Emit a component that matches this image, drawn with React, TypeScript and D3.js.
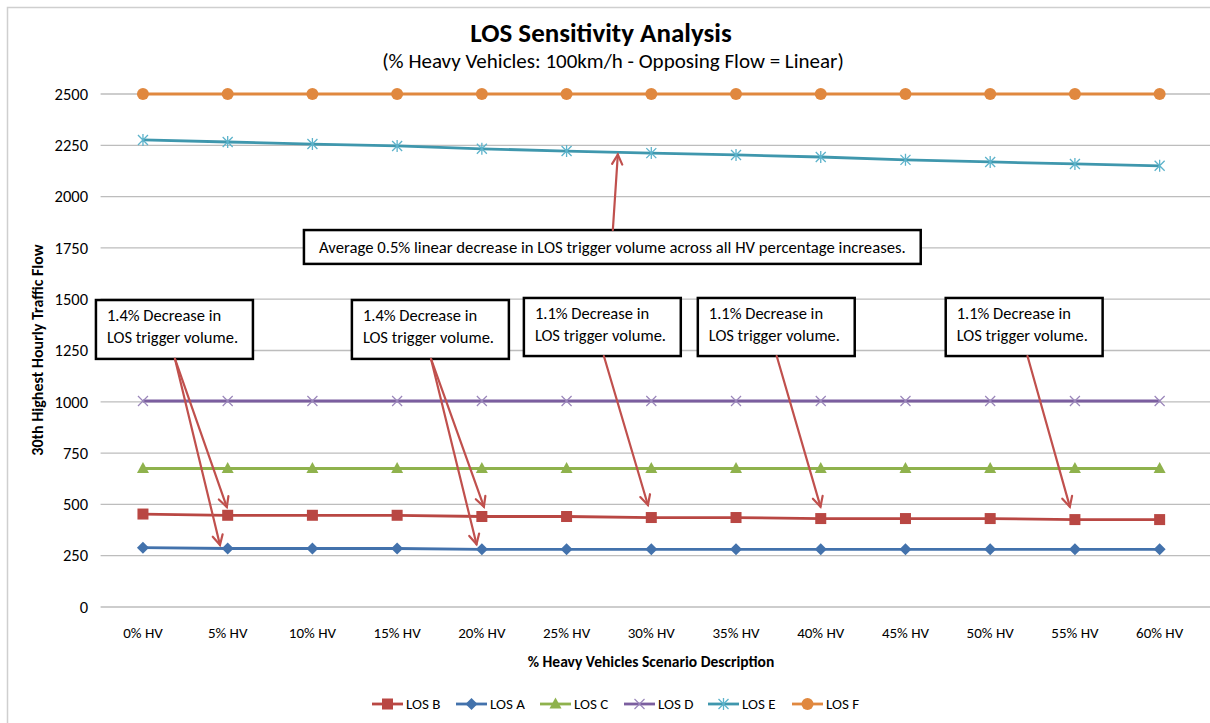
import React from 'react';
import * as d3 from 'd3';

// ---------- data ----------
const categories = ['0% HV', '5% HV', '10% HV', '15% HV', '20% HV', '25% HV', '30% HV', '35% HV', '40% HV', '45% HV', '50% HV', '55% HV', '60% HV'];
const losB = [453, 447, 447, 447, 441, 441, 436, 436, 431, 431, 431, 426, 426];
const losA = [289, 285, 285, 285, 281, 281, 281, 281, 281, 281, 281, 281, 281];
const losC = [675, 675, 675, 675, 675, 675, 675, 675, 675, 675, 675, 675, 675];
const losD = [1004, 1004, 1004, 1004, 1004, 1004, 1004, 1004, 1004, 1004, 1004, 1004, 1004];
const losE = [2276, 2266, 2256, 2247, 2233, 2222, 2212, 2203, 2193, 2179, 2169, 2159, 2150];
const losF = [2500, 2500, 2500, 2500, 2500, 2500, 2500, 2500, 2500, 2500, 2500, 2500, 2500];
const yTicks = [0, 250, 500, 750, 1000, 1250, 1500, 1750, 2000, 2250, 2500];
const seriesNames = ['LOS B', 'LOS A', 'LOS C', 'LOS D', 'LOS E', 'LOS F'];

const title = 'LOS Sensitivity Analysis';
const subtitle = '(% Heavy Vehicles: 100km/h - Opposing Flow = Linear)';
const xTitle = '% Heavy Vehicles Scenario Description';
const yTitle = '30th Highest Hourly Traffic Flow';

const noteTexts = [
  ['1.4% Decrease in', 'LOS trigger volume.'],
  ['1.4% Decrease in', 'LOS trigger volume.'],
  ['1.1% Decrease in', 'LOS trigger volume.'],
  ['1.1% Decrease in', 'LOS trigger volume.'],
  ['1.1% Decrease in', 'LOS trigger volume.'],
];
const bigNote = 'Average 0.5% linear decrease in LOS trigger volume across all HV percentage increases.';

// ---------- layout / style ----------
const W = 1210;
const H = 723;
const FONT = "Carlito, Calibri, Lato, 'Open Sans', sans-serif";
const plot = { left: 100.6, right: 1202, top: 94, bottom: 607 };

const styles = [
  { color: '#B94743', marker: 'square' },
  { color: '#4372AC', marker: 'diamond' },
  { color: '#8FB24D', marker: 'triangle' },
  { color: '#7B5E9F', marker: 'x' },
  { color: '#3F97AD', marker: 'star' },
  { color: '#E0883F', marker: 'circle' },
];

// annotation boxes in (category index, value) space
const noteBoxes = [
  { i0: -0.555, i1: 1.298, v0: 1496, v1: 1209 },
  { i0: 2.466, i1: 4.319, v0: 1496, v1: 1209 },
  { i0: 4.496, i1: 6.348, v0: 1506, v1: 1223 },
  { i0: 6.549, i1: 8.401, v0: 1506, v1: 1223 },
  { i0: 9.475, i1: 11.327, v0: 1506, v1: 1223 },
];
const noteArrows = [
  { from: [0.378, 1209], to: [0.99, 487] },
  { from: [0.378, 1209], to: [0.909, 302] },
  { from: [3.40, 1209], to: [4.024, 489] },
  { from: [3.40, 1209], to: [3.937, 306] },
  { from: [5.44, 1223], to: [5.96, 497] },
  { from: [7.48, 1223], to: [7.997, 489] },
  { from: [10.44, 1223], to: [10.94, 489] },
  { from: [5.546, 1837], to: [5.605, 2205] },
];
const bigBox = { i0: 1.9, i1: 9.18, v0: 1837, v1: 1672 };

function Marker({ type, x, y, color }: { type: string; x: number; y: number; color: string }) {
  switch (type) {
    case 'square':
      return <rect x={x - 5.5} y={y - 5.5} width={11} height={11} fill={color} />;
    case 'diamond':
      return <path d={`M${x},${y - 6}L${x + 6},${y}L${x},${y + 6}L${x - 6},${y}Z`} fill={color} />;
    case 'triangle':
      return <path d={`M${x},${y - 6.5}L${x + 6},${y + 4.5}L${x - 6},${y + 4.5}Z`} fill={color} />;
    case 'x':
      return (
        <path d={`M${x - 5},${y - 5}L${x + 5},${y + 5}M${x - 5},${y + 5}L${x + 5},${y - 5}`} stroke="#9A86BA" strokeWidth={1.2} fill="none" />
      );
    case 'star':
      return (
        <path
          d={`M${x - 5},${y - 5}L${x + 5},${y + 5}M${x - 5},${y + 5}L${x + 5},${y - 5}M${x},${y - 6}L${x},${y + 6}`}
          stroke="#5DB3CB"
          strokeWidth={1.3}
          fill="none"
        />
      );
    case 'circle':
    default:
      return <circle cx={x} cy={y} r={6} fill={color} />;
  }
}

export default function App() {
  const series = [losB, losA, losC, losD, losE, losF];
  const x = d3.scalePoint<string>().domain(categories).range([plot.left, plot.right]).padding(0.5);
  const y = d3.scaleLinear().domain([0, 2500]).range([plot.bottom, plot.top]);
  const xi = d3
    .scaleLinear()
    .domain([0, categories.length - 1])
    .range([x(categories[0]) as number, x(categories[categories.length - 1]) as number]);

  const line = d3
    .line<number>()
    .x((_, i) => x(categories[i]) as number)
    .y((d) => y(d));

  const arrowHead = (x1: number, y1: number, x2: number, y2: number) => {
    const a = Math.atan2(y2 - y1, x2 - x1);
    const L = 11;
    const s = 0.48;
    const p1 = [x2 - L * Math.cos(a - s), y2 - L * Math.sin(a - s)];
    const p2 = [x2 - L * Math.cos(a + s), y2 - L * Math.sin(a + s)];
    return `M${p1[0]},${p1[1]}L${x2},${y2}L${p2[0]},${p2[1]}`;
  };

  const legendStart = 372;
  const legendStep = 84;

  return (
    <svg width={W} height={H} style={{ position: 'absolute', left: 0, top: 0, background: '#fff' }} fontFamily={FONT}>
      <rect x={0} y={0} width={W} height={H} fill="#fff" />
      <rect x={7.5} y={7.5} width={W + 20} height={H + 20} fill="none" stroke="#cfcfcf" strokeWidth={1.5} />

      <text x={601} y={42} textAnchor="middle" fontSize={27} fontWeight="bold" fill="#000">
        {title}
      </text>
      <text x={613} y={68} textAnchor="middle" fontSize={21} fill="#000">
        {subtitle}
      </text>

      {/* gridlines */}
      {yTicks.map((t) => (
        <g key={t}>
          <line x1={plot.left} x2={plot.right + 8} y1={y(t)} y2={y(t)} stroke="#bdbdbd" strokeWidth={1.3} />
          <text x={88} y={y(t)} dy="0.35em" textAnchor="end" fontSize={16.5} fill="#000">
            {t}
          </text>
        </g>
      ))}

      {/* x tick labels */}
      {categories.map((c) => (
        <text key={c} x={x(c)} y={638} textAnchor="middle" fontSize={15} fill="#000">
          {c}
        </text>
      ))}

      <text x={651} y={667} textAnchor="middle" fontSize={15.5} fontWeight="bold" fill="#000">
        {xTitle}
      </text>
      <text transform={`translate(43,350) rotate(-90)`} textAnchor="middle" fontSize={16} fontWeight="bold" fill="#000">
        {yTitle}
      </text>

      {/* series */}
      {series.map((s, k) => (
        <path key={seriesNames[k]} d={line(s) || ''} fill="none" stroke={styles[k].color} strokeWidth={2.8} strokeLinejoin="round" />
      ))}
      {series.map((s, k) =>
        s.map((v, i) => <Marker key={`${k}-${i}`} type={styles[k].marker} x={x(categories[i]) as number} y={y(v)} color={styles[k].color} />)
      )}

      {/* annotation boxes */}
      {noteBoxes.map((b, k) => {
        const bx = xi(b.i0);
        const by = y(b.v0);
        return (
          <g key={k}>
            <rect x={bx} y={by} width={xi(b.i1) - bx} height={y(b.v1) - by} fill="#fff" stroke="#000" strokeWidth={2.5} />
            {noteTexts[k].map((t, j) => (
              <text key={j} x={bx + 11} y={by + 21 + j * 22} fontSize={16.5} fill="#000">
                {t}
              </text>
            ))}
          </g>
        );
      })}
      <g>
        <rect
          x={xi(bigBox.i0)}
          y={y(bigBox.v0)}
          width={xi(bigBox.i1) - xi(bigBox.i0)}
          height={y(bigBox.v1) - y(bigBox.v0)}
          fill="#fff"
          stroke="#000"
          strokeWidth={2.5}
        />
        <text x={(xi(bigBox.i0) + xi(bigBox.i1)) / 2} y={(y(bigBox.v0) + y(bigBox.v1)) / 2} dy="0.35em" textAnchor="middle" fontSize={16.7} fill="#000">
          {bigNote}
        </text>
      </g>

      {/* arrows */}
      {noteArrows.map((a, k) => {
        const x1 = xi(a.from[0]);
        const y1 = y(a.from[1]);
        const x2 = xi(a.to[0]);
        const y2 = y(a.to[1]);
        return (
          <g key={k} stroke="#C0504D" strokeWidth={2.2} fill="none" strokeLinecap="round">
            <line x1={x1} y1={y1} x2={x2} y2={y2} />
            <path d={arrowHead(x1, y1, x2, y2)} />
          </g>
        );
      })}

      {/* legend */}
      {seriesNames.map((n, k) => {
        const lx = legendStart + k * legendStep;
        const ly = 704;
        return (
          <g key={n}>
            <line x1={lx} x2={lx + 31} y1={ly} y2={ly} stroke={styles[k].color} strokeWidth={2.8} />
            <Marker type={styles[k].marker} x={lx + 15.5} y={ly} color={styles[k].color} />
            <text x={lx + 34} y={ly} dy="0.35em" fontSize={15} fill="#000">
              {n}
            </text>
          </g>
        );
      })}
    </svg>
  );
}
